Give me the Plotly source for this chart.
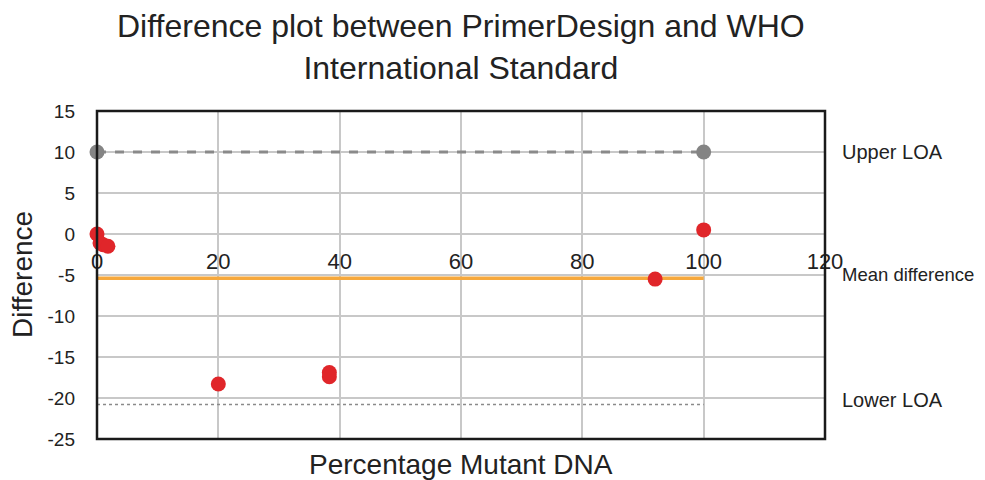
import plotly.graph_objects as go

# Data
pct_mutant = [0, 0.5, 1.0, 1.8, 20, 38.3, 38.3, 92, 100]
difference = [0, -1.1, -1.3, -1.5, -18.3, -17.4, -16.9, -5.5, 0.5]

loa_x = [0, 100]
upper_loa = [10, 10]
mean_diff = [-5.4, -5.4]
lower_loa = [-20.8, -20.8]

x_ticks = [0, 20, 40, 60, 80, 100, 120]
y_ticks = [15, 10, 5, 0, -5, -10, -15, -20, -25]
y_ticktext = ["15", "10", "5", "0", "-5", "-10", "-15", "-20", "-25"]

font = "Liberation Sans, Arial, sans-serif"

fig = go.Figure()

fig.add_trace(go.Scatter(x=loa_x, y=lower_loa, mode="lines",
                         line=dict(color="#8a8a8a", width=1.5, dash="dot"),
                         showlegend=False, hoverinfo="skip"))
fig.add_trace(go.Scatter(x=loa_x, y=mean_diff, mode="lines",
                         line=dict(color="#f6a83c", width=3.5),
                         showlegend=False))
fig.add_trace(go.Scatter(x=loa_x, y=upper_loa, mode="lines+markers",
                         line=dict(color="#8a8a8a", width=3, dash="dash"),
                         marker=dict(color="#848484", size=15),
                         cliponaxis=False, showlegend=False))
fig.add_trace(go.Scatter(x=pct_mutant, y=difference, mode="markers",
                         marker=dict(color="#e0262a", size=15),
                         cliponaxis=False, showlegend=False))

# right-side labels
labels = [("Upper LOA", 10, 20), ("Mean difference", -4.9, 18.5), ("Lower LOA", -20.3, 20)]
for text, yv, fs in labels:
    fig.add_annotation(x=1.0, xref="paper", xshift=15, y=yv, yref="y",
                       text=text, showarrow=False, xanchor="left",
                       font=dict(family=font, size=fs, color="#222"))

# chart title
fig.add_annotation(x=0.5, xref="paper", y=1, yref="paper", yshift=64,
                   text="Difference plot between PrimerDesign and WHO<br>International Standard",
                   showarrow=False, xanchor="center", yanchor="middle",
                   font=dict(family=font, size=32, color="#222"))

# x-axis title at bottom
fig.add_annotation(x=0.5, xref="paper", y=-0.077, yref="paper",
                   text="Percentage Mutant DNA", showarrow=False,
                   xanchor="center", yanchor="middle",
                   font=dict(family=font, size=28, color="#222"))

# y-axis title
fig.add_annotation(x=0, xref="paper", xshift=-75, y=0.5, yref="paper",
                   text="Difference", showarrow=False, textangle=-90,
                   xanchor="center", yanchor="middle",
                   font=dict(family=font, size=28, color="#222"))

# frame
fig.add_shape(type="rect", xref="x domain", yref="y domain",
              x0=0, x1=1, y0=0, y1=1, line=dict(color="#1a1a1a", width=2.5),
              layer="above")

fig.update_layout(
    width=977, height=472,
    margin=dict(l=89, r=160, t=103, b=41),
    paper_bgcolor="white", plot_bgcolor="white",
    xaxis=dict(range=[0, 120], tickvals=x_ticks, showgrid=True,
               gridcolor="#c8c8c8", gridwidth=1.5, zeroline=False,
               anchor="free", position=0.625, showline=False,
               ticks="", ticklabelstandoff=12, automargin=False,
               tickfont=dict(family=font, size=22, color="#222")),
    yaxis=dict(range=[-25, 15], tickvals=y_ticks, ticktext=y_ticktext,
               showgrid=True, automargin=False,
               gridcolor="#c8c8c8", gridwidth=1.5, zeroline=False,
               showline=False, ticks="", ticklabelstandoff=21,
               tickfont=dict(family=font, size=19, color="#222")),
)

fig.write_html("out.html")
